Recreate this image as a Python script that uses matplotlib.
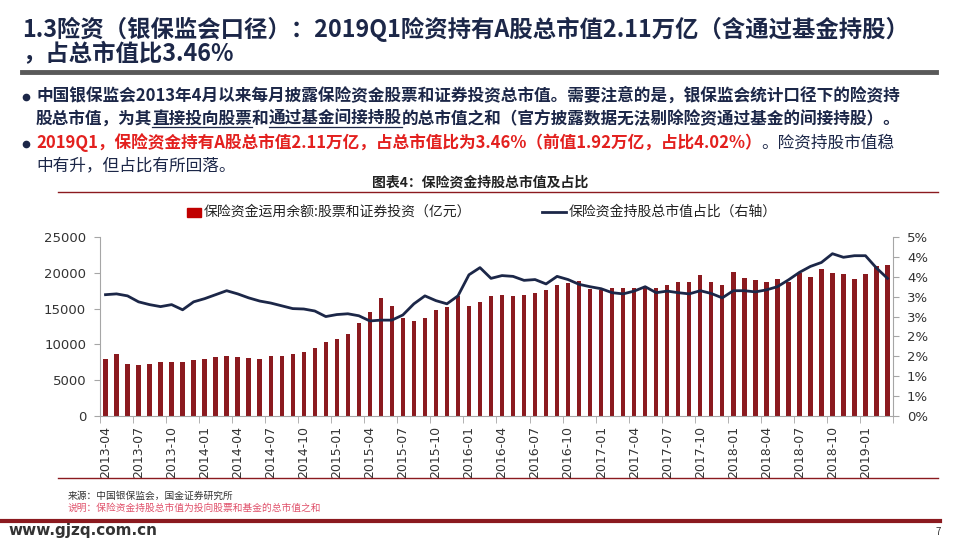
import numpy as np
import pandas as pd
import matplotlib
matplotlib.use('Agg')
import matplotlib.pyplot as plt
import matplotlib.patches as mpatches
from matplotlib.lines import Line2D
from matplotlib.ticker import FuncFormatter

plt.rcParams['font.family'] = ['Noto Sans CJK SC', 'DejaVu Sans']

# monthly data, 2013-04 .. 2019-03
months = list(pd.period_range('2013-04', '2019-03', freq='M').strftime('%Y-%m'))

# 保险资金运用余额:股票和证券投资（亿元）
stock_value = [7950, 8670, 7250, 7130, 7250, 7550, 7550, 7550, 7830, 7950,
               8230, 8390, 8230, 8090, 7950, 8390, 8390, 8670, 8950, 9510,
               10340, 10760, 11480, 13000, 14540, 16500, 15380, 13700, 13280, 13700,
               14820, 15240, 16700, 15380, 15940, 16780, 16910, 16780, 16900, 17200,
               17620, 18320, 18600, 18870, 17760, 17620, 17900, 17900, 17900, 18100,
               17900, 18320, 18730, 18730, 19710, 18740, 18320, 20130, 19290, 19010,
               18740, 19150, 18740, 19920, 19430, 20550, 19990, 19850, 19150, 19850,
               20970, 21110]

# 保险资金持股总市值占比（右轴, %）
stock_ratio = [3.05, 3.07, 3.02, 2.87, 2.80, 2.75, 2.80, 2.67, 2.87, 2.95,
               3.05, 3.15, 3.07, 2.97, 2.89, 2.84, 2.77, 2.70, 2.69, 2.64,
               2.50, 2.55, 2.57, 2.52, 2.39, 2.41, 2.41, 2.54, 2.82, 3.02,
               2.90, 2.82, 3.02, 3.55, 3.73, 3.46, 3.53, 3.51, 3.41, 3.43,
               3.32, 3.51, 3.43, 3.31, 3.25, 3.20, 3.10, 3.07, 3.14, 3.25,
               3.10, 3.14, 3.10, 3.07, 3.15, 3.08, 2.97, 3.15, 3.15, 3.12,
               3.17, 3.25, 3.42, 3.61, 3.76, 3.86, 4.08, 3.99, 4.03, 4.03,
               3.72, 3.46]

bar_label = '保险资金运用余额:股票和证券投资（亿元）'
line_label = '保险资金持股总市值占比（右轴）'

NAVY = '#1C2748'
DARKRED = '#8B1A1F'
RED = '#E3201E'
W, H = 960, 540

fig = plt.figure(figsize=(W / 100, H / 100), dpi=100)
renderer = fig.canvas.get_renderer()


def fy(y):
    return 1 - y / H


def write_line(x, y, parts, size):
    # parts: (text, color, weight, underline) drawn one after another
    for text, color, weight, underline in parts:
        t = fig.text(x / W, fy(y), text, color=color, fontsize=size,
                     fontweight=weight, va='center', ha='left')
        bb = t.get_window_extent(renderer)
        if underline:
            fig.add_artist(Line2D([bb.x0 / W, bb.x1 / W], [(bb.y0 + 1) / H] * 2,
                                  color=color, lw=0.9))
        x = bb.x1


# page title
fig.text(22 / W, fy(29), '1.3险资（银保监会口径）：2019Q1险资持有A股总市值2.11万亿（含通过基金持股）',
         fontsize=16.8, fontweight='bold', color=NAVY, va='center')
fig.text(22 / W, fy(54), '，占总市值比3.46%', fontsize=16.8, fontweight='bold', color=NAVY, va='center')
fig.add_artist(Line2D([22 / W, 936 / W], [fy(72)] * 2, color='#595959', lw=3.5))

# bullets
for yb in (97, 144):
    fig.add_artist(Line2D([26 / W], [fy(yb)], marker='o', markersize=4.5,
                          color=NAVY, linestyle='none'))
write_line(36, 96, [('中国银保监会2013年4月以来每月披露保险资金股票和证券投资总市值。需要注意的是，银保监会统计口径下的险资持',
                     NAVY, 'bold', False)], 12)
write_line(36, 119, [('股总市值，为其', NAVY, 'bold', False),
                     ('直接投向股票', NAVY, 'bold', True),
                     ('和', NAVY, 'bold', False),
                     ('通过基金间接持股', NAVY, 'bold', True),
                     ('的总市值之和（官方披露数据无法剔除险资通过基金的间接持股）。', NAVY, 'bold', False)], 12)
write_line(36, 143, [('2019Q1，保险资金持有A股总市值2.11万亿，占总市值比为3.46%（前值1.92万亿，占比4.02%）',
                      RED, 'bold', False),
                     ('。险资持股市值稳', NAVY, 'normal', False)], 12)
write_line(36, 166, [('中有升，但占比有所回落。', NAVY, 'normal', False)], 12)

# chart title
fig.text(480 / W, fy(183), '图表4：保险资金持股总市值及占比', fontsize=10, fontweight='bold',
         color='#222222', ha='center', va='center')
fig.add_artist(Line2D([58 / W, 938 / W], [fy(192)] * 2, color=DARKRED, lw=1))

# legend
fig.add_artist(mpatches.Rectangle((187 / W, fy(217)), 14 / W, 9 / H, color='#C00000',
                                  transform=fig.transFigure))
fig.text(204 / W, fy(212), bar_label, fontsize=10, color='#222222', va='center')
fig.add_artist(Line2D([542 / W, 566 / W], [fy(212)] * 2, color=NAVY, lw=2))
fig.text(569 / W, fy(212), line_label, fontsize=10, color='#222222', va='center')

# chart
x = np.arange(len(months))
ax = fig.add_axes([100 / W, fy(416), 793 / W, 179 / H])
ax.bar(x, stock_value, width=0.4, color=DARKRED)
ax.set_xlim(-0.5, len(months) - 0.5)
ax.set_ylim(0, 25000)
ax.set_yticks(range(0, 25001, 5000))

ax2 = ax.twinx()
ax2.plot(x, stock_ratio, color=NAVY, lw=2)
ax2.set_ylim(0, 4.5)
ax2.set_yticks(np.arange(0, 4.51, 0.5))
ax2.yaxis.set_major_formatter(FuncFormatter(lambda v, p: '%d%%' % int(np.floor(v + 0.5))))

ax.set_xticks(x[::3])
ax.set_xticklabels(months[::3], rotation=90, fontsize=9, color='#333333', family='DejaVu Sans')
ax.set_xticks(np.arange(-0.5, len(months), 3), minor=True)
ax.tick_params(axis='x', which='major', length=0, pad=7)
ax.tick_params(axis='x', which='minor', length=5, color='#A6A6A6')
ax.tick_params(axis='y', length=4, color='#A6A6A6', labelsize=9.5, labelcolor='#333333', pad=6)
ax2.tick_params(axis='y', length=4, color='#A6A6A6', labelsize=9.5, labelcolor='#333333', pad=6)
for lab in ax.get_yticklabels() + ax2.get_yticklabels():
    lab.set_family('DejaVu Sans')

for a in (ax, ax2):
    a.spines['top'].set_visible(False)
ax.spines['right'].set_visible(False)
ax2.spines['left'].set_visible(False)
ax2.spines['bottom'].set_visible(False)
for s in ('left', 'bottom'):
    ax.spines[s].set_color('#A6A6A6')
ax2.spines['right'].set_color('#A6A6A6')

fig.add_artist(Line2D([58 / W, 938 / W], [fy(478)] * 2, color=DARKRED, lw=1))

# footer
fig.text(68 / W, fy(496), '来源：中国银保监会，国金证券研究所', fontsize=7, color='#333333', va='center')
fig.text(68 / W, fy(508), '说明：保险资金持股总市值为投向股票和基金的总市值之和', fontsize=7,
         color='#E0506A', va='center')
fig.add_artist(Line2D([0, 940 / W], [fy(521)] * 2, color=DARKRED, lw=3))
fig.text(8 / W, fy(531), 'www.gjzq.com.cn', fontsize=11, fontweight='bold', color='#333333',
         va='center', family='DejaVu Sans')
fig.text(935 / W, fy(532), '7', fontsize=7, color='#333333', va='center')

fig.savefig('out.png', dpi=100)
